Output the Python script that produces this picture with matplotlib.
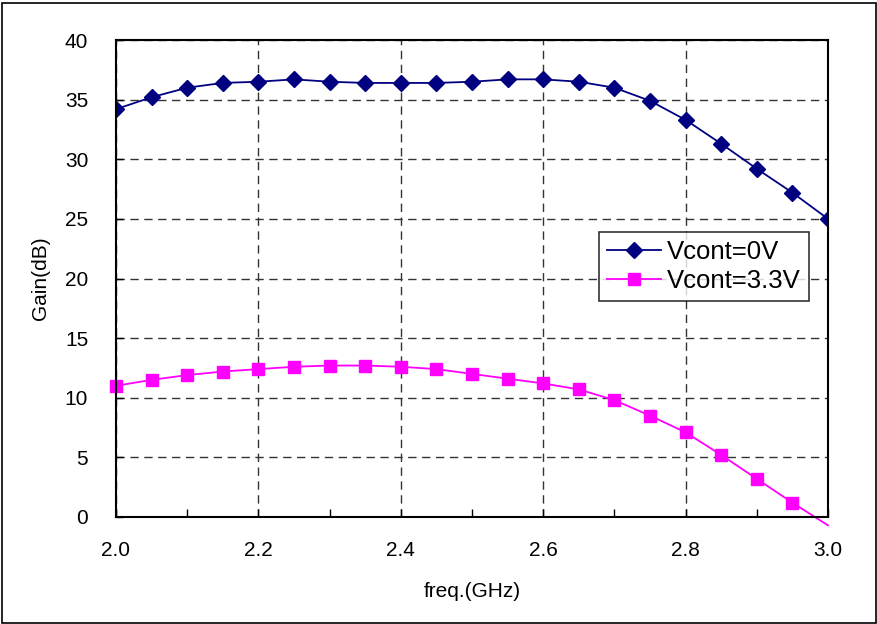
import matplotlib
matplotlib.use("Agg")
import matplotlib.pyplot as plt
from matplotlib.patches import Rectangle
from matplotlib.ticker import MultipleLocator

freq = [2.0, 2.05, 2.1, 2.15, 2.2, 2.25, 2.3, 2.35, 2.4, 2.45, 2.5,
        2.55, 2.6, 2.65, 2.7, 2.75, 2.8, 2.85, 2.9, 2.95, 3.0]
gain_0v = [34.2, 35.2, 36.0, 36.4, 36.5, 36.7, 36.5, 36.4, 36.4, 36.4, 36.5,
           36.7, 36.7, 36.5, 36.0, 34.9, 33.3, 31.3, 29.2, 27.2, 25.0]
gain_33v = [11.0, 11.5, 11.9, 12.2, 12.4, 12.6, 12.7, 12.7, 12.6, 12.4, 12.0,
            11.6, 11.2, 10.7, 9.8, 8.5, 7.1, 5.2, 3.2, 1.2, -0.7]
labels = ["Vcont=0V", "Vcont=3.3V"]
xticks = [2.0, 2.2, 2.4, 2.6, 2.8, 3.0]
yticks = [0, 5, 10, 15, 20, 25, 30, 35, 40]

plt.rcParams['font.family'] = ['Liberation Sans', 'DejaVu Sans']

fig = plt.figure(figsize=(8.78, 6.24), dpi=100)
fig.patches.append(Rectangle((0.002, 0.002), 0.996, 0.993, transform=fig.transFigure,
                             fill=False, edgecolor='black', linewidth=1.2))
ax = fig.add_axes([116/878, 1 - 517/624, (828-116)/878, (517-40)/624])

ax.plot(freq, gain_0v, color='#000080', marker='D', markersize=8, linewidth=1.3,
        label=labels[0])
ax.plot(freq, gain_33v, color='#FF00FF', marker='s', markersize=9, linewidth=1.3,
        label=labels[1], clip_on=False, markevery=list(range(len(freq) - 1)))

ax.set_xlim(2.0, 3.0)
ax.set_ylim(0, 40)
ax.set_xticks(xticks)
ax.set_xticklabels([f"{v:.1f}" for v in xticks])
ax.set_yticks(yticks)
ax.set_yticklabels([str(v) for v in yticks])
ax.xaxis.set_minor_locator(MultipleLocator(0.1))
ax.tick_params(axis='x', which='both', direction='in', length=6, width=1, pad=17, labelsize=15)
ax.tick_params(axis='y', which='both', direction='in', length=5, width=1, pad=20, labelsize=15)
ax.grid(True, which='major', linestyle=(0, (6, 4)), color='#333333', linewidth=1)
for s in ax.spines.values():
    s.set_linewidth(1.5)
    s.set_color('black')

ax.set_xlabel("freq.(GHz)", fontsize=15, labelpad=16)
ax.set_ylabel("Gain(dB)", fontsize=15, labelpad=11)

leg = ax.legend(loc='upper left', bbox_to_anchor=((599-116)/712, (517-232)/477),
                fontsize=18.5, frameon=True, fancybox=False, edgecolor='black',
                borderpad=0.3, handlelength=2.1, labelspacing=0.2, handletextpad=0.25,
                borderaxespad=0)
leg.get_frame().set_linewidth(1.2)

fig.savefig("out.png", dpi=100)
